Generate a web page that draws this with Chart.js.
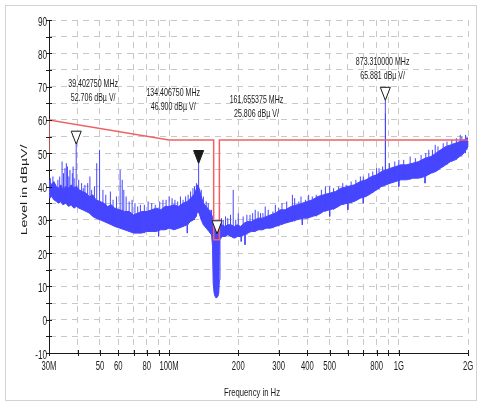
<!DOCTYPE html>
<html>
<head>
<meta charset="utf-8">
<script src="https://cdn.jsdelivr.net/npm/chart.js@4.4.1/dist/chart.umd.min.js"></script>
<style>
  html, body { margin: 0; padding: 0; background: #fff; }
  #wrap { width: 477px; height: 403px; position: relative; }
</style>
</head>
<body>
<div id="wrap"><canvas id="c" width="477" height="403"></canvas></div>
<script>
// Spectrum scan 30 MHz - 2 GHz, level in dBuV, with limit line and 4 markers.

// grid / tick positions (MHz and dB)
const gridFreq = [30, 40, 50, 60, 70, 80, 90, 100, 200, 300, 400, 500, 600, 700, 800, 900, 1000, 2000];
const xTicks = [30, 50, 60, 80, 100, 200, 300, 400, 500, 800, 1000, 2000];
const xTickLabels = ["30M", "50", "60", "80", "100M", "200", "300", "400", "500", "800", "1G", "2G"];
const gridLevel = [-10, -5, 0, 5, 10, 15, 20, 25, 30, 35, 40, 45, 50, 55, 60, 65, 70, 75, 80, 85, 90];
const yTicks = [-10, 0, 10, 20, 30, 40, 50, 60, 70, 80, 90];

// noise floor envelope (MHz, dBuV)
const envFreq = [
  30, 30.8, 31.5, 32.3, 33, 33.8, 34.5, 35.5, 36.5, 37.5, 38.5, 39.5, 40.5, 42, 43.5, 45, 46.5, 48, 50, 52,
  54, 56, 58, 61, 64, 67, 70, 73, 76, 80, 84, 88, 92, 96, 100, 105, 110, 115, 120, 124,
  128, 131, 133, 135, 138, 141, 145, 149, 153, 154.5, 155.5, 157, 158.5, 160, 161.5, 163, 164.5, 165.5, 166.5, 170,
  175, 180, 186, 192, 198, 205, 212, 220, 228, 236, 245, 255, 265, 277, 290, 305, 320, 340, 360, 380,
  400, 420, 445, 470, 500, 530, 560, 600, 640, 680, 720, 760, 800, 840, 880, 920, 970, 1020, 1080, 1150,
  1220, 1300, 1380, 1450, 1520, 1600, 1680, 1760, 1840, 1920, 2000];
const envHigh = [
  42, 40.5, 41.5, 40, 39.5, 40.5, 39, 40, 39.5, 40.5, 39.5, 40, 39, 38.5, 38, 37, 37.5, 36, 35.5, 35,
  34, 34.5, 33.5, 33, 32.5, 32.5, 31.5, 32, 32.5, 32.5, 33, 33.5, 33, 34, 34, 34.5, 34, 35, 35.5, 36.5,
  37.5, 39, 40.5, 39.5, 37, 35, 34, 33, 31.5, 31, 29.5, 28, 27, 26.5, 26.5, 27, 27, 27.5, 28.5, 28.5,
  28, 28.5, 28.5, 28, 28.5, 28, 29, 29.5, 29.5, 30, 30.5, 30.5, 31, 31.5, 32, 33, 33, 34, 34.5, 35,
  35.5, 36, 37, 37.5, 38, 38.5, 39.5, 40, 40.5, 41.5, 42, 43, 43.5, 44.5, 45, 45.5, 46, 46.5, 46.5, 47,
  47.5, 48.5, 49, 50, 51, 52, 52.5, 53, 53.5, 54, 54.5];
const envLow = [
  36.5, 37, 36, 35.5, 35, 35.5, 34.5, 35, 34, 34.5, 33.5, 34, 33.5, 33, 32.5, 32, 31, 30.5, 30, 29.5,
  29, 28.5, 28, 27.5, 27, 26.5, 26, 26, 26, 26.5, 26.5, 26.5, 27, 27, 27.5, 27, 27.5, 28, 28.5, 29.5,
  30, 31, 32.5, 32, 30, 28.5, 27.5, 26.5, 25.5, 22, 11, 8, 7, 6.5, 6.5, 7, 8, 12, 24, 25,
  25, 25.5, 25, 24.5, 25, 25, 25.5, 26, 26.5, 26.5, 27, 27, 27.5, 27.5, 28, 28.5, 29, 29.5, 30, 30.5,
  30.5, 31, 31.5, 32.5, 33, 33.5, 34.5, 35, 35.5, 36.5, 37, 38, 39, 40, 40.5, 41, 41.5, 42, 42, 42.5,
  42.5, 43, 44, 44.5, 45.5, 46.5, 47.5, 48, 49, 50, 52];

// single spurs sticking out of the floor: frequency, foot, tip
const spikeFreq = [
  30.4, 31.2, 32.8, 33.4, 34.2, 34.7, 35.2, 35.7, 36.1, 36.6,
  37, 37.9, 38.2, 38.6, 39.40275, 40.4, 41.6, 42.3, 43, 44.2,
  45.2, 46, 47.3, 48.4, 49.8, 51.5, 53, 55.5, 57, 59,
  61.2, 62.5, 63.5, 65, 67, 69, 71, 73, 75, 78,
  81, 84, 87, 90, 91, 94, 97, 100, 103, 106,
  109, 112, 115, 118, 120, 121, 124, 127, 129, 131.5,
  134.40675, 138, 141, 145, 148, 151, 153, 169, 172, 176,
  180, 185, 190.1, 195, 200, 206, 210, 214, 218, 225,
  231, 237, 244, 250, 256, 262, 270, 283, 290, 300,
  310, 325, 344, 352, 367, 375, 392, 405, 420, 437,
  460, 479, 500, 520, 547, 570, 590, 620, 650, 680,
  700, 740, 770, 800, 820, 850, 873.31, 874.5, 910, 960,
  1000, 1050, 1120, 1180, 1250, 1310, 1350, 1400, 1440, 1480,
  1560, 1620, 1700, 1780, 1850, 1880, 1950, 1980,
  500, 700, 1000, 1300, 600, 380];
const spikeBase = [
  36.5, 37, 36, 35, 35, 35, 35, 35, 34.5, 34.5,
  34.5, 34, 34, 34, 34, 34, 33.5, 33, 33, 32.5,
  32, 32, 31, 31, 30.5, 30, 29.5, 29, 28.5, 28,
  27.5, 27.5, 27, 27, 26.5, 26.5, 26, 26, 26, 26,
  26.5, 26.5, 26.5, 27, 27, 27, 27, 27.5, 27.5, 27.5,
  27.5, 27.5, 28, 28.5, 28.5, 28.5, 29.5, 30, 30, 31,
  32, 30, 28.5, 27.5, 27, 26, 25.5, 25, 25, 25,
  25.5, 25, 24.5, 24.5, 25, 28, 25.5, 27, 25.5, 26.5,
  26.5, 26.5, 27, 27, 27, 27.5, 27.5, 27.5, 28, 28,
  28.5, 29, 29.5, 29.5, 30, 30, 30.5, 30.5, 31, 31,
  32, 32.5, 33, 33, 34, 34.5, 35, 35, 36, 36.5,
  37, 37.5, 38, 39, 39, 40, 40.5, 40.5, 41, 41.5,
  42, 42, 42, 42.5, 42.5, 43, 43.5, 44, 44.5, 45,
  46, 46.5, 47.5, 48, 49, 49, 50, 51,
  33, 37, 42, 43, 35, 30.5];
const spikeTop = [
  42.5, 43, 42, 43, 47.5, 44, 45.5, 47, 46, 43,
  45, 44, 46, 42.5, 52.706, 42, 41, 39.5, 40.5, 41,
  43, 39, 40, 47, 51, 39, 37.5, 38.5, 36, 37,
  45, 42, 39, 37, 35.5, 36, 35, 34, 34.5, 34.5,
  35.5, 35, 34.5, 25, 35.5, 36, 36, 37, 36.5, 36,
  35.5, 37, 36, 37, 26, 37.5, 38.5, 39.5, 40, 41,
  46.9, 39, 37, 35.5, 35, 33, 33, 30.5, 30, 31,
  30.5, 31.5, 39, 30, 32, 23.5, 31, 22.5, 31.5, 31.5,
  32, 33, 32.5, 32, 32, 34, 33, 32.5, 34.5, 33.5,
  35, 35.5, 37.5, 36.5, 35.5, 37, 36, 37.5, 37, 37.5,
  39, 40, 40, 39.5, 40, 41, 40.5, 41.5, 42, 43,
  43, 44, 44.5, 45.5, 45.5, 46, 65.881, 62, 47, 47.5,
  48, 48, 49, 48.5, 49.5, 50, 51, 51, 52.5, 52,
  53, 53.5, 54, 54.5, 55.5, 55, 55.5, 55,
  31, 35, 40, 41, 33, 28.5];

// limit line (MHz, dBuV)
const limitFreq = [30, 30, 100, 156.3, 156.3, 165.5, 165.5, 2000];
const limitLevel = [49.5, 60, 54, 54, 24, 24, 54, 54];

// markers
const markerFreq = [39.40275, 134.40675, 161.655375, 873.31];
const markerLevel = [52.706, 46.9, 25.806, 65.881];
const markerFilled = [false, true, false, false];
// where each marker's readout sits (MHz, dBuV of first text line)
const readoutFreq = [46.7, 104.2, 240, 850];
const readoutLevel = [70.8, 68.2, 66, 77.5];

const BLUE = "#4646ff", RED = "#f06262", GRID = "#c8c8c8", INK = "#1a1a1a";
const FONT = '"Liberation Sans", Arial, sans-serif';

// text is horizontally condensed in the source picture
function txt(ctx, s, x, y, size, sx, align) {
  ctx.save();
  ctx.translate(x, y);
  ctx.scale(sx, 1);
  ctx.font = size + "px " + FONT;
  ctx.fillStyle = INK;
  ctx.textAlign = align;
  ctx.textBaseline = "middle";
  ctx.fillText(s, 0, 0);
  ctx.restore();
}

const overlay = {
  id: "overlay",
  afterDraw(chart) {
    const { ctx, chartArea: a, scales: { x, y } } = chart;
    ctx.save();
    // outer frame
    ctx.strokeStyle = "#d2d2d2"; ctx.lineWidth = 1;
    ctx.strokeRect(5.5, 5.5, 471, 395);

    // tick marks crossing the axes
    ctx.strokeStyle = INK; ctx.lineWidth = 1;
    ctx.beginPath();
    gridFreq.forEach((f) => {
      const px = Math.round(x.getPixelForValue(f)) + 0.5;
      ctx.moveTo(px, a.bottom - 3); ctx.lineTo(px, a.bottom + 3);
    });
    gridLevel.forEach((v) => {
      const py = Math.round(y.getPixelForValue(v)) + 0.5;
      ctx.moveTo(a.left - 3, py); ctx.lineTo(a.left + 3, py);
    });
    ctx.stroke();

    // tick labels
    xTicks.forEach((f, i) => txt(ctx, xTickLabels[i], x.getPixelForValue(f), a.bottom + 14, 12, 0.64, "center"));
    yTicks.forEach((v) => txt(ctx, String(v), a.left - 2, y.getPixelForValue(v) + 2, 13, 0.63, "right"));

    // axis titles
    txt(ctx, "Frequency in Hz", 252, 393, 11, 0.7, "center");
    ctx.save();
    ctx.translate(27, 190);
    ctx.rotate(-Math.PI / 2);
    ctx.scale(1, 0.62);
    ctx.font = "14px " + FONT;
    ctx.fillStyle = INK;
    ctx.textAlign = "center";
    ctx.textBaseline = "alphabetic";
    ctx.fillText("Level in dB\u00b5V/", 0, 0);
    ctx.restore();

    // markers + readouts
    markerFreq.forEach((f, i) => {
      const px = x.getPixelForValue(f), py = y.getPixelForValue(markerLevel[i]);
      ctx.beginPath();
      ctx.moveTo(px, py); ctx.lineTo(px - 5, py - 13); ctx.lineTo(px + 5, py - 13); ctx.closePath();
      ctx.fillStyle = markerFilled[i] ? INK : "#fff";
      ctx.fill();
      ctx.strokeStyle = INK; ctx.lineWidth = 1;
      ctx.stroke();
      const lx = x.getPixelForValue(readoutFreq[i]), ly = y.getPixelForValue(readoutLevel[i]);
      txt(ctx, f.toFixed(6) + " MHz", lx, ly, 11, 0.64, "center");
      txt(ctx, markerLevel[i].toFixed(3) + " dB\u00b5 V/", lx, ly + 14.5, 11, 0.64, "center");
    });
    ctx.restore();
  },
};

const pts = (xs, ys) => xs.map((v, i) => ({ x: v, y: ys[i] }));
const spikePts = [];
spikeFreq.forEach((f, i) => {
  spikePts.push({ x: f, y: spikeBase[i] }, { x: f, y: spikeTop[i] }, { x: f, y: null });
});

const axisCommon = {
  ticks: { display: false },
  grid: { color: GRID, lineWidth: 1, drawTicks: false },
  border: { display: true, color: INK, width: 1, dash: [6, 5] },
};

new Chart(document.getElementById("c"), {
  type: "line",
  data: {
    datasets: [
      { label: "Limit", data: pts(limitFreq, limitLevel), borderColor: RED, borderWidth: 1.5, pointRadius: 0, fill: false, tension: 0 },
      { label: "Spurs", data: spikePts, borderColor: BLUE, borderWidth: 1, pointRadius: 0, fill: false, spanGaps: false },
      { label: "Upper", data: pts(envFreq, envHigh), borderColor: BLUE, backgroundColor: BLUE, borderWidth: 1, pointRadius: 0, fill: "+1" },
      { label: "Lower", data: pts(envFreq, envLow), borderColor: BLUE, borderWidth: 1, pointRadius: 0, fill: false },
    ],
  },
  options: {
    responsive: false,
    animation: false,
    devicePixelRatio: 1,
    layout: { padding: { top: 20, right: 9, left: 0, bottom: 0 } },
    plugins: { legend: { display: false }, tooltip: { enabled: false } },
    scales: {
      x: {
        ...axisCommon,
        type: "logarithmic", min: 30, max: 2000,
        afterBuildTicks: (s) => { s.ticks = gridFreq.map((v) => ({ value: v })); },
        afterFit: (s) => { s.height = 50; },
      },
      y: {
        ...axisCommon,
        type: "linear", min: -10, max: 90,
        afterBuildTicks: (s) => { s.ticks = gridLevel.map((v) => ({ value: v })); },
        afterFit: (s) => { s.width = 49; },
      },
    },
  },
  plugins: [overlay],
});
</script>
</body>
</html>
